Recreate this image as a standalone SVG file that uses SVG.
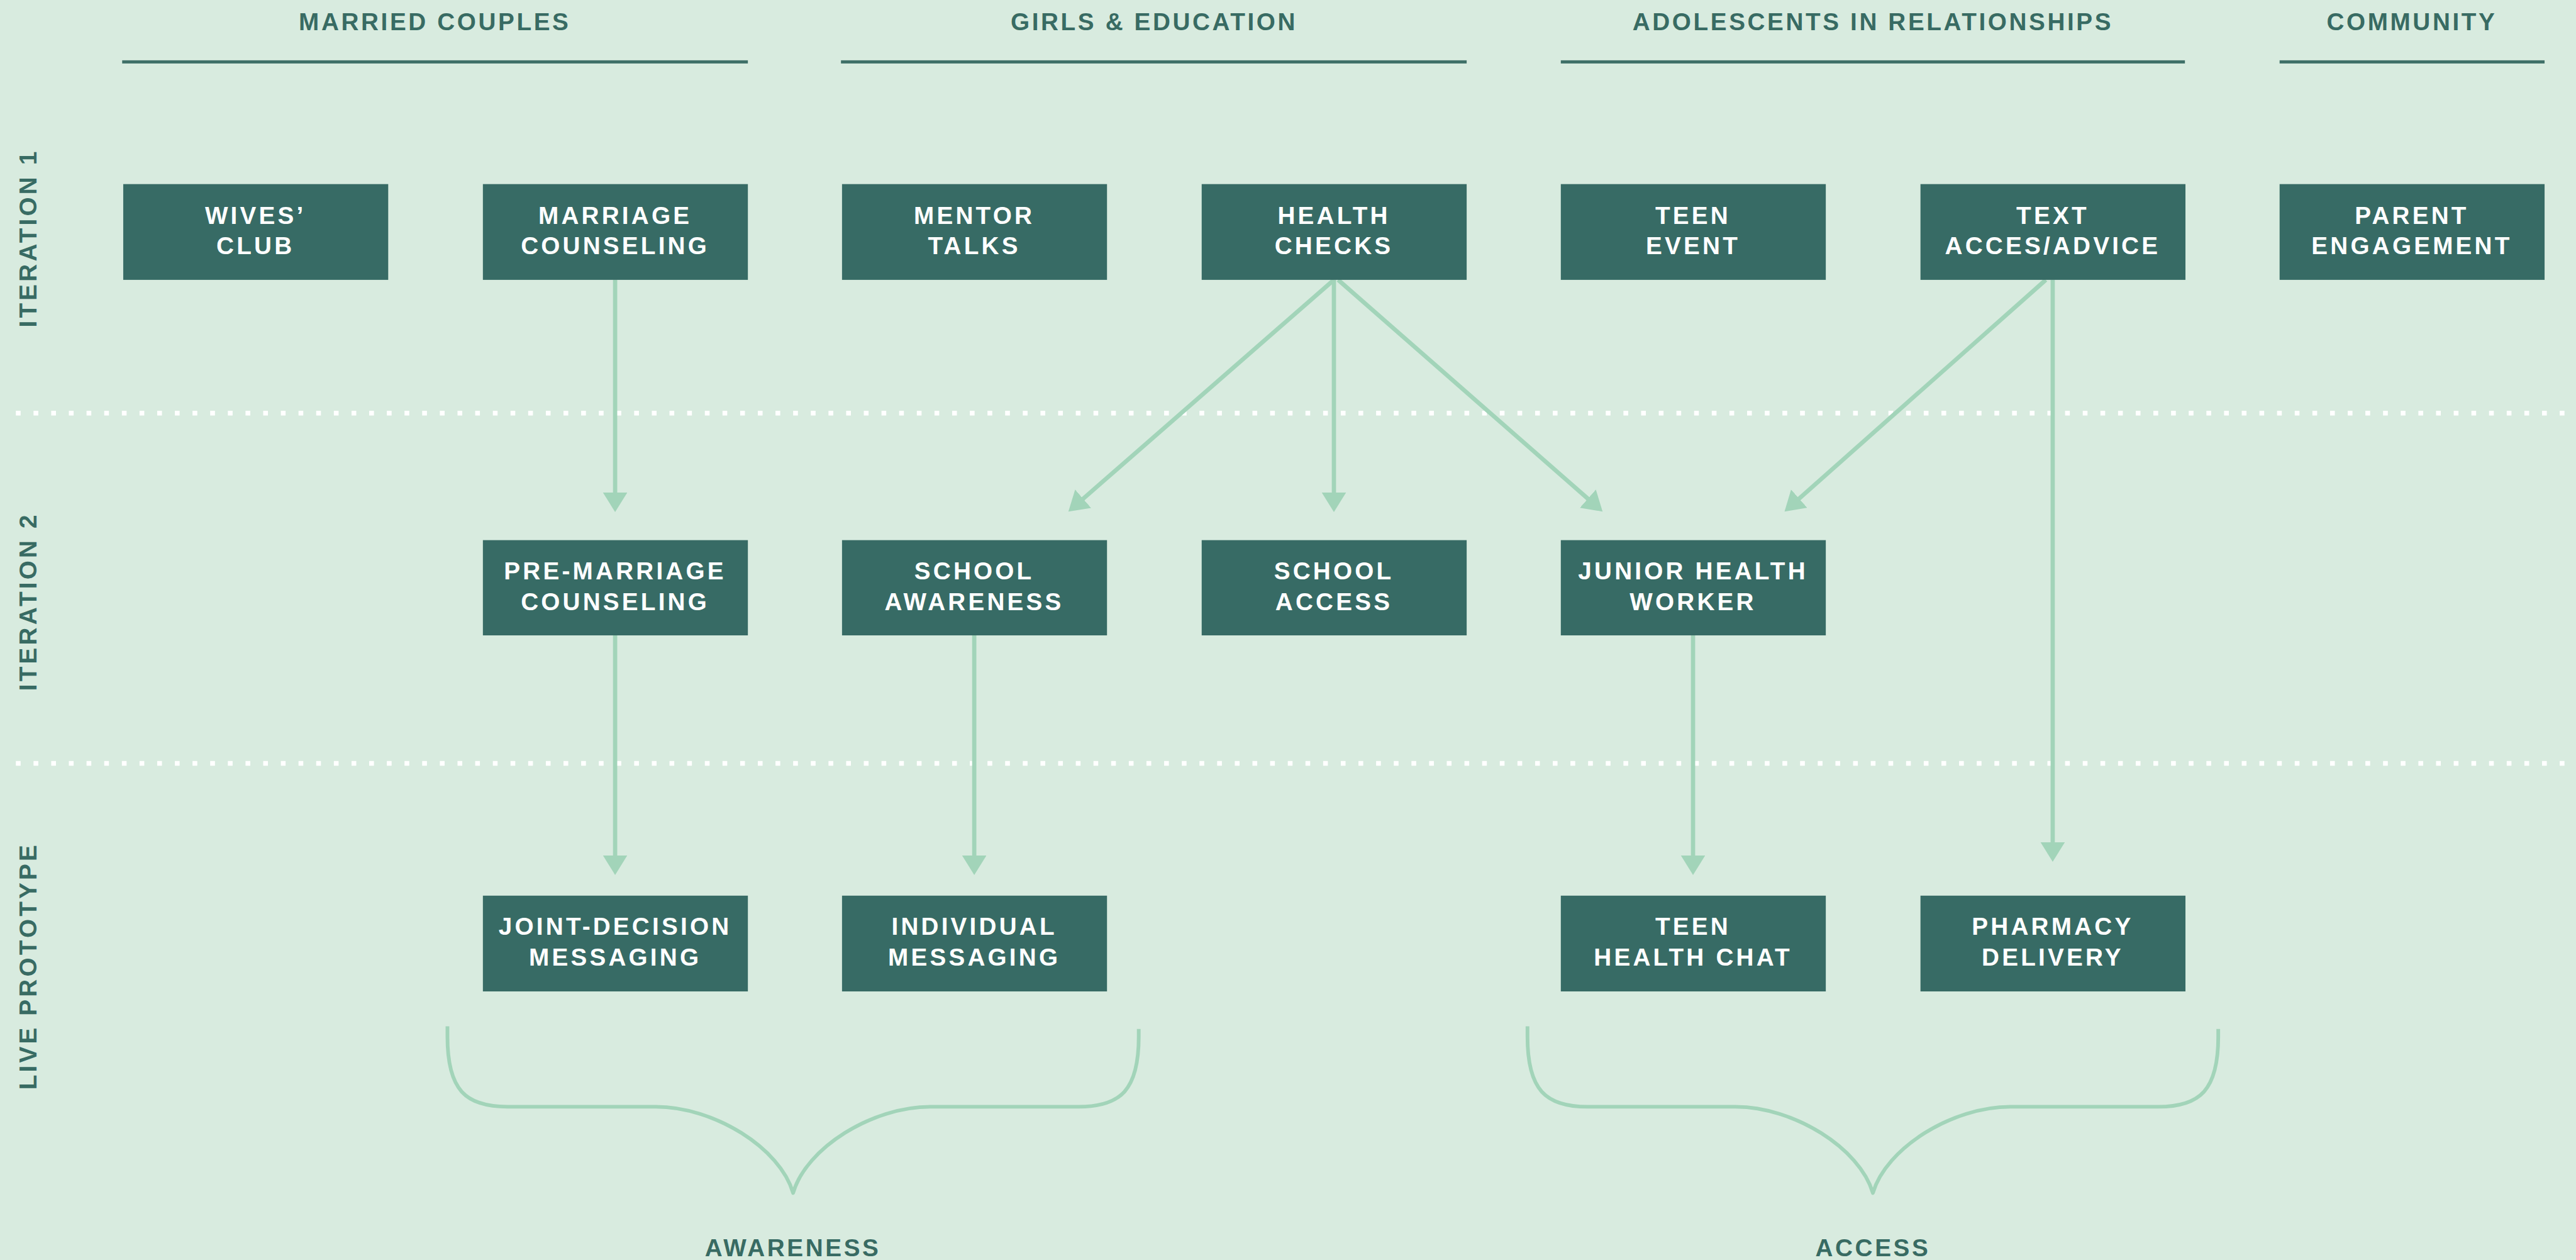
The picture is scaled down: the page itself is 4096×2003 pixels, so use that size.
<svg xmlns="http://www.w3.org/2000/svg" width="4096" height="2003" viewBox="0 0 4096 2003">
  <defs>
    <style>
      .bg { fill: #d8ebdf; }
      .node rect { fill: #376b65; }
      .node text { fill: #ffffff; font-family: "Liberation Sans", Arial, sans-serif; font-weight: 700; font-size: 46px; letter-spacing: 5px; text-anchor: middle; }
      .head { fill: #386b63; font-family: "Liberation Sans", Arial, sans-serif; font-weight: 700; font-size: 46px; letter-spacing: 4.3px; text-anchor: middle; }
      .rule { fill: #3f7068; }
      .side { fill: #386b63; font-family: "Liberation Sans", Arial, sans-serif; font-weight: 700; font-size: 46px; letter-spacing: 5px; text-anchor: middle; }
      .dots { stroke: #ffffff; stroke-width: 9; stroke-dasharray: 9 24.4; fill: none; }
      .link { stroke: #a2d4b9; stroke-width: 8; fill: none; marker-end: url(#head); }
      .brace { stroke: #a2d4b9; stroke-width: 7; fill: none; stroke-linejoin: round; }
    </style>
    <marker id="head" markerUnits="userSpaceOnUse" markerWidth="40" markerHeight="48" refX="7" refY="23" orient="auto">
      <path d="M0,0 L37,23 L0,46 Z" fill="#a2d4b9"/>
    </marker>
  </defs>

  <rect class="bg" x="0" y="0" width="4096" height="2003"/>

  <!-- drawn in a 4865 x 2379 coordinate space -->
  <g transform="scale(0.841)">

    <!-- column headings -->
    <g id="headings">
      <text class="head" x="822" y="57">MARRIED COUPLES</text>
      <text class="head" x="2182" y="57">GIRLS &amp; EDUCATION</text>
      <text class="head" x="3541" y="57">ADOLESCENTS IN RELATIONSHIPS</text>
      <text class="head" x="4560" y="57">COMMUNITY</text>
      <rect class="rule" x="231" y="114" width="1183" height="6"/>
      <rect class="rule" x="1590" y="114" width="1183" height="6"/>
      <rect class="rule" x="2951" y="114" width="1180" height="6"/>
      <rect class="rule" x="4310" y="114" width="501" height="6"/>
    </g>

    <!-- row labels -->
    <g id="row-labels">
      <text class="side" transform="translate(69,450) rotate(-90)">ITERATION 1</text>
      <text class="side" transform="translate(69,1137) rotate(-90)">ITERATION 2</text>
      <text class="side" transform="translate(69,1826) rotate(-90)">LIVE PROTOTYPE</text>
    </g>

    <!-- row separators -->
    <g id="separators">
      <line class="dots" x1="30" y1="781" x2="4865" y2="781"/>
      <line class="dots" x1="30" y1="1443" x2="4865" y2="1443"/>
    </g>

    <!-- connectors -->
    <g id="connectors">
      <line class="link" x1="1163" y1="529" x2="1163" y2="938"/>
      <line class="link" x1="2522" y1="529" x2="2042.6" y2="947.3"/>
      <line class="link" x1="2522" y1="529" x2="2522" y2="938"/>
      <line class="link" x1="2530" y1="529" x2="3007.4" y2="947.2"/>
      <line class="link" x1="3868" y1="529" x2="3396.4" y2="947.1"/>
      <line class="link" x1="3881" y1="529" x2="3881" y2="1599"/>
      <line class="link" x1="1163" y1="1201" x2="1163" y2="1624"/>
      <line class="link" x1="1842" y1="1201" x2="1842" y2="1624"/>
      <line class="link" x1="3201" y1="1201" x2="3201" y2="1624"/>
    </g>

    <!-- iteration 1 -->
    <g id="wives-club" class="node"><rect x="233" y="348" width="501" height="181"/><text x="483" y="423">WIVES’</text><text x="483" y="480">CLUB</text></g>
    <g id="marriage-counseling" class="node"><rect x="913" y="348" width="501" height="181"/><text x="1163" y="423">MARRIAGE</text><text x="1163" y="480">COUNSELING</text></g>
    <g id="mentor-talks" class="node"><rect x="1592" y="348" width="501" height="181"/><text x="1842" y="423">MENTOR</text><text x="1842" y="480">TALKS</text></g>
    <g id="health-checks" class="node"><rect x="2272" y="348" width="501" height="181"/><text x="2522" y="423">HEALTH</text><text x="2522" y="480">CHECKS</text></g>
    <g id="teen-event" class="node"><rect x="2951" y="348" width="501" height="181"/><text x="3201" y="423">TEEN</text><text x="3201" y="480">EVENT</text></g>
    <g id="text-access" class="node"><rect x="3631" y="348" width="501" height="181"/><text x="3881" y="423">TEXT</text><text x="3881" y="480">ACCES/ADVICE</text></g>
    <g id="parent-engagement" class="node"><rect x="4310" y="348" width="501" height="181"/><text x="4560" y="423">PARENT</text><text x="4560" y="480">ENGAGEMENT</text></g>

    <!-- iteration 2 -->
    <g id="pre-marriage-counseling" class="node"><rect x="913" y="1021" width="501" height="180"/><text x="1163" y="1095">PRE-MARRIAGE</text><text x="1163" y="1153">COUNSELING</text></g>
    <g id="school-awareness" class="node"><rect x="1592" y="1021" width="501" height="180"/><text x="1842" y="1095">SCHOOL</text><text x="1842" y="1153">AWARENESS</text></g>
    <g id="school-access" class="node"><rect x="2272" y="1021" width="501" height="180"/><text x="2522" y="1095">SCHOOL</text><text x="2522" y="1153">ACCESS</text></g>
    <g id="junior-health-worker" class="node"><rect x="2951" y="1021" width="501" height="180"/><text x="3201" y="1095">JUNIOR HEALTH</text><text x="3201" y="1153">WORKER</text></g>

    <!-- live prototype -->
    <g id="joint-decision-messaging" class="node"><rect x="913" y="1693" width="501" height="181"/><text x="1163" y="1767">JOINT-DECISION</text><text x="1163" y="1825">MESSAGING</text></g>
    <g id="individual-messaging" class="node"><rect x="1592" y="1693" width="501" height="181"/><text x="1842" y="1767">INDIVIDUAL</text><text x="1842" y="1825">MESSAGING</text></g>
    <g id="teen-health-chat" class="node"><rect x="2951" y="1693" width="501" height="181"/><text x="3201" y="1767">TEEN</text><text x="3201" y="1825">HEALTH CHAT</text></g>
    <g id="pharmacy-delivery" class="node"><rect x="3631" y="1693" width="501" height="181"/><text x="3881" y="1767">PHARMACY</text><text x="3881" y="1825">DELIVERY</text></g>

    <!-- grouping braces -->
    <g id="awareness">
      <path class="brace" d="M846,1940 L846,1960 C846,2060 880,2092 960,2092 L1240,2092 C1350,2092 1475,2170 1499.5,2255 C1524,2170 1649,2092 1759,2092 L2039,2092 C2119,2092 2153,2060 2153,1960 L2153,1945"/>
      <text class="head" x="1499" y="2374">AWARENESS</text>
    </g>
    <g id="access">
      <path class="brace" d="M2888,1940 L2888,1960 C2888,2060 2922,2092 3002,2092 L3281,2092 C3391,2092 3516,2170 3541,2255 C3566,2170 3691,2092 3801,2092 L4080,2092 C4160,2092 4194,2060 4194,1960 L4194,1945"/>
      <text class="head" x="3541" y="2374">ACCESS</text>
    </g>
  </g>
</svg>
